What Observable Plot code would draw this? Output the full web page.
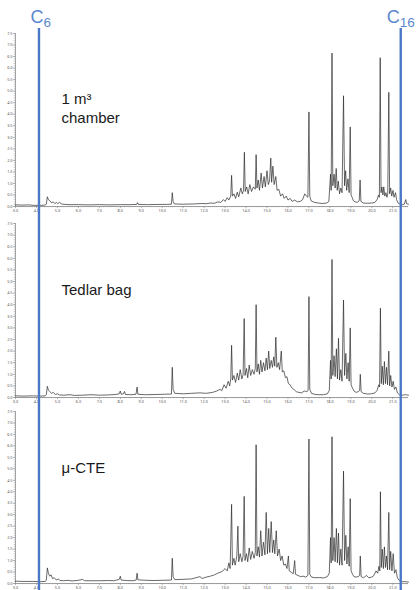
<!DOCTYPE html>
<html><head><meta charset="utf-8">
<script src="https://cdn.jsdelivr.net/npm/d3@7"></script>
<script src="https://cdn.jsdelivr.net/npm/@observablehq/plot@0.6"></script>
<style>
html,body{margin:0;padding:0;background:#fff;overflow:hidden;}
#chart svg{display:block}
</style></head><body><div id="chart"></div>
<script>
// Retention time axis (min) and intensity axis tick labels
const xTicks = [3,4,5,6,7,8,9,10,11,12,13,14,15,16,17,18,19,20,21];
const yTicks = [0,0.5,1,1.5,2,2.5,3,3.5,4,4.5,5,5.5,6,6.5,7,7.5];
// Alkane markers (retention time, min)
const markerTimes = [4.12, 21.38];
const markerLetters = ["C", "C"];
const markerSubs = ["6", "16"];
const panelNames = ["1 m³\nchamber", "Tedlar bag", "μ-CTE"];

// [retention time, intensity]
const chamberTrace = [
[3.00,0.07],[3.30,0.06],[3.60,0.07],[3.90,0.05],[4.20,0.05],[4.40,0.06],[4.47,0.10],[4.52,0.42],[4.57,0.30],[4.65,0.24],[4.72,0.16],[4.80,0.20],[4.88,0.12],[4.95,0.18],[5.02,0.12],[5.10,0.19],[5.18,0.11],[5.35,0.09],[5.60,0.08],[6.00,0.08],[6.50,0.07],[7.00,0.08],[7.50,0.07],[8.00,0.08],[8.50,0.08],[8.78,0.09],[8.82,0.17],[8.86,0.09],[9.30,0.08],[9.80,0.09],[10.20,0.09],[10.44,0.10],[10.48,0.60],[10.52,0.22],[10.58,0.11],[11.00,0.10],[11.50,0.11],[11.90,0.13],[12.10,0.12],[12.30,0.15],[12.50,0.14],[12.65,0.20],[12.80,0.18],[12.92,0.30],[13.00,0.22],[13.10,0.38],[13.18,0.28],[13.27,0.45],[13.31,1.35],[13.35,0.45],[13.42,0.55],[13.50,0.35],[13.58,0.62],[13.65,0.42],[13.75,0.80],[13.82,0.55],[13.88,0.70],[13.92,2.35],[13.96,0.65],[14.03,0.85],[14.10,0.55],[14.18,0.95],[14.26,0.65],[14.35,0.85],[14.44,0.75],[14.48,2.25],[14.52,0.80],[14.58,1.15],[14.64,0.70],[14.72,1.45],[14.78,0.80],[14.86,1.30],[14.92,0.85],[15.00,1.55],[15.06,0.95],[15.12,1.10],[15.18,2.10],[15.22,1.05],[15.28,1.75],[15.34,0.95],[15.42,1.30],[15.48,0.70],[15.56,0.75],[15.65,0.45],[15.74,0.55],[15.82,0.35],[15.92,0.45],[16.00,0.28],[16.10,0.35],[16.20,0.22],[16.32,0.28],[16.45,0.20],[16.58,0.22],[16.70,0.30],[16.80,0.55],[16.88,0.45],[16.95,0.40],[17.00,4.10],[17.04,0.45],[17.10,0.25],[17.25,0.18],[17.45,0.15],[17.65,0.13],[17.85,0.15],[17.95,0.22],
[18.03,1.40],[18.06,0.70],[18.10,6.65],[18.14,0.90],[18.20,1.40],[18.25,0.80],[18.30,1.65],[18.35,0.70],[18.40,1.10],[18.46,0.55],[18.52,0.80],[18.58,0.60],[18.65,4.80],[18.70,0.90],[18.75,1.55],[18.80,0.70],[18.86,1.20],[18.92,0.60],[18.97,3.45],[19.01,0.50],[19.06,0.40],[19.12,0.25],[19.20,0.20],[19.30,0.18],[19.40,0.25],[19.44,1.15],[19.48,0.22],[19.60,0.15],[19.80,0.14],[20.00,0.15],[20.15,0.18],[20.25,0.30],[20.32,0.50],[20.36,0.40],[20.40,6.45],[20.44,0.60],[20.48,0.85],[20.53,0.50],[20.57,0.85],[20.62,0.45],[20.67,0.60],[20.72,0.40],[20.76,0.55],[20.81,4.95],[20.85,0.55],[20.90,0.80],[20.95,0.45],[21.01,0.70],[21.06,0.40],[21.13,0.60],[21.18,0.30],[21.25,0.15],[21.35,0.10],[21.45,0.08],[21.55,0.10],[21.62,0.30],[21.66,0.12],[21.75,0.10]
];
const tedlarTrace = [
[3.00,0.07],[3.40,0.06],[3.80,0.07],[4.20,0.06],[4.42,0.07],[4.47,0.12],[4.52,0.48],[4.57,0.32],[4.64,0.25],[4.72,0.18],[4.80,0.22],[4.90,0.13],[5.00,0.16],[5.10,0.11],[5.30,0.10],[5.60,0.12],[5.80,0.09],[6.20,0.10],[6.60,0.12],[7.00,0.10],[7.40,0.11],[7.80,0.13],[7.95,0.16],[8.00,0.28],[8.04,0.14],[8.15,0.16],[8.20,0.26],[8.25,0.13],[8.50,0.12],[8.75,0.14],[8.80,0.45],[8.84,0.14],[9.20,0.12],[9.70,0.13],[10.10,0.14],[10.44,0.15],[10.48,1.30],[10.52,0.35],[10.60,0.18],[11.00,0.16],[11.40,0.18],[11.80,0.20],[12.10,0.18],[12.40,0.22],[12.60,0.28],[12.75,0.35],[12.85,0.30],[12.95,0.55],[13.05,0.40],[13.15,0.70],[13.22,0.50],[13.27,0.80],[13.31,2.25],[13.35,0.75],[13.42,0.95],[13.50,0.65],[13.58,1.05],[13.65,0.75],[13.72,1.20],[13.80,0.80],[13.86,1.00],[13.91,3.40],[13.95,0.95],[14.02,1.25],[14.08,0.85],[14.15,1.40],[14.22,0.95],[14.30,1.20],[14.38,1.00],[14.44,1.25],[14.48,4.00],[14.52,1.10],[14.58,1.45],[14.64,1.00],[14.70,1.60],[14.76,1.10],[14.83,1.50],[14.90,1.15],[14.96,1.70],[15.02,1.20],[15.08,2.00],[15.13,1.25],[15.20,1.60],[15.26,1.30],[15.32,1.75],[15.37,1.35],[15.42,2.60],[15.47,1.30],[15.54,1.50],[15.60,1.20],[15.68,2.00],[15.73,1.10],[15.80,1.15],[15.88,0.85],[15.95,0.90],[16.02,0.60],[16.10,0.55],[16.18,0.42],[16.28,0.35],[16.40,0.25],[16.52,0.22],[16.65,0.20],[16.78,0.28],[16.90,0.25],[16.96,0.30],[17.00,4.35],[17.04,0.35],[17.12,0.18],[17.30,0.13],[17.50,0.12],[17.70,0.12],[17.88,0.16],[17.97,0.30],
[18.03,1.60],[18.06,0.80],[18.10,5.95],[18.14,0.95],[18.20,1.80],[18.25,0.90],[18.31,2.10],[18.36,0.80],[18.41,2.55],[18.46,0.75],[18.52,1.20],[18.58,0.70],[18.65,4.20],[18.70,0.95],[18.76,1.90],[18.81,0.80],[18.87,1.50],[18.92,0.70],[18.97,3.00],[19.01,0.55],[19.08,0.40],[19.15,0.28],[19.25,0.22],[19.35,0.25],[19.42,0.30],[19.45,1.00],[19.49,0.25],[19.60,0.18],[19.80,0.15],[20.00,0.16],[20.15,0.20],[20.25,0.30],[20.33,0.55],[20.37,0.45],[20.41,3.85],[20.45,0.60],[20.50,1.35],[20.55,0.55],[20.60,1.55],[20.65,0.60],[20.70,1.30],[20.75,0.55],[20.81,2.00],[20.85,0.50],[20.90,0.95],[20.96,0.45],[21.02,0.70],[21.08,0.35],[21.15,0.45],[21.22,0.20],[21.32,0.12],[21.45,0.10],[21.60,0.12],[21.75,0.10]
];
const cteTrace = [
[3.00,0.10],[3.40,0.09],[3.80,0.09],[4.20,0.08],[4.42,0.09],[4.47,0.15],[4.52,0.68],[4.57,0.45],[4.63,0.32],[4.70,0.38],[4.76,0.22],[4.85,0.25],[4.95,0.15],[5.05,0.20],[5.12,0.13],[5.30,0.12],[5.50,0.14],[5.70,0.11],[6.00,0.14],[6.20,0.18],[6.30,0.12],[6.60,0.12],[7.00,0.12],[7.40,0.13],[7.70,0.12],[7.95,0.18],[8.00,0.32],[8.04,0.15],[8.30,0.13],[8.60,0.12],[8.76,0.15],[8.80,0.45],[8.84,0.16],[9.20,0.14],[9.60,0.13],[10.00,0.14],[10.44,0.15],[10.48,1.10],[10.52,0.30],[10.60,0.17],[11.00,0.18],[11.40,0.20],[11.80,0.30],[11.90,0.22],[12.10,0.28],[12.30,0.32],[12.50,0.38],[12.65,0.45],[12.80,0.50],[12.90,0.56],[13.00,0.65],[13.10,0.55],[13.18,0.90],[13.24,0.65],[13.31,3.45],[13.35,0.80],[13.42,1.10],[13.48,0.80],[13.56,1.20],[13.61,2.50],[13.65,0.95],[13.72,1.30],[13.80,0.95],[13.86,1.20],[13.91,3.80],[13.95,1.00],[14.02,1.30],[14.08,0.95],[14.15,1.55],[14.22,1.05],[14.30,1.40],[14.38,1.10],[14.44,1.35],[14.48,6.05],[14.52,1.20],[14.58,1.60],[14.64,1.15],[14.70,2.30],[14.76,1.20],[14.83,1.80],[14.90,1.25],[14.96,3.10],[15.02,1.30],[15.08,2.40],[15.13,1.35],[15.20,2.70],[15.26,1.35],[15.32,1.90],[15.37,1.30],[15.44,2.30],[15.50,1.20],[15.58,1.50],[15.65,1.00],[15.72,1.20],[15.80,0.80],[15.88,0.85],[15.95,0.65],[16.02,1.20],[16.06,0.55],[16.15,0.50],[16.25,0.42],[16.32,1.00],[16.36,0.40],[16.48,0.35],[16.60,0.30],[16.72,0.32],[16.85,0.28],[16.95,0.35],[17.00,6.30],[17.04,0.40],[17.12,0.28],[17.30,0.25],[17.50,0.26],[17.70,0.24],[17.88,0.30],[17.97,0.45],
[18.03,2.00],[18.06,0.90],[18.10,6.40],[18.14,1.00],[18.20,2.00],[18.25,0.95],[18.31,2.40],[18.36,0.90],[18.41,2.20],[18.46,0.80],[18.52,1.50],[18.58,0.80],[18.65,4.90],[18.70,1.00],[18.76,2.10],[18.81,0.85],[18.87,1.60],[18.92,0.75],[18.97,3.70],[19.01,0.55],[19.08,0.40],[19.15,0.30],[19.25,0.28],[19.35,0.30],[19.42,0.35],[19.45,1.20],[19.49,0.30],[19.60,0.25],[19.75,0.35],[19.85,0.25],[20.00,0.28],[20.10,0.35],[20.20,0.55],[20.28,0.45],[20.34,0.75],[20.38,0.55],[20.41,4.00],[20.45,0.70],[20.50,1.50],[20.55,0.65],[20.60,1.60],[20.65,0.70],[20.70,1.20],[20.75,0.60],[20.81,3.10],[20.85,0.60],[20.90,1.40],[20.96,0.55],[21.02,1.30],[21.08,0.45],[21.15,0.60],[21.22,0.25],[21.32,0.12],[21.45,0.08],[21.60,0.08],[21.75,0.06]
];

const traces = [chamberTrace, tedlarTrace, cteTrace];
const markers = markerTimes.map((t, i) => ({t, letter: markerLetters[i], sub: markerSubs[i]}));
const xMinor = d3.range(30, 218).map(d => d / 10);
const yMinor = d3.range(0, 76).map(d => d / 10);

const layout = [
  {height: 215, top: 33, bottom: 9, labelDy: 57},
  {height: 189, top: 8, bottom: 7, labelDy: 58},
  {height: 186, top: 7, bottom: 7, labelDy: 48}
];
const markerDx = [4.5, -1];
const blue = "#4a78c6";
const labelBlue = "#5b88cf";
const axisGray = "#8a8a8a";
const font = "Liberation Sans, Arial, sans-serif";

function panel(i) {
  const L = layout[i];
  const marks = [
    Plot.axisY(yMinor, {tickSize: 1.2, tickFormat: () => "", stroke: axisGray, strokeWidth: 0.5, label: null}),
    Plot.axisY(yTicks, {tickSize: 2.2, tickPadding: 0.8, tickFormat: d => d.toFixed(1), fontSize: 3.8, fill: "#555", stroke: axisGray, strokeWidth: 0.6, label: null}),
    Plot.axisX(xMinor, {tickSize: 1.2, tickFormat: () => "", stroke: axisGray, strokeWidth: 0.5, label: null}),
    Plot.axisX(xTicks, {tickSize: 2.2, tickPadding: 0.6, tickFormat: d => d.toFixed(1), fontSize: 3.8, fill: "#555", stroke: axisGray, strokeWidth: 0.6, label: null}),
    Plot.ruleY([0], {stroke: axisGray, strokeWidth: 0.8}),
    Plot.ruleX([3], {stroke: axisGray, strokeWidth: 0.8}),
    Plot.line(traces[i], {x: d => d[0], y: d => d[1], stroke: "#2a2a2a", strokeWidth: 0.7}),
    Plot.text([panelNames[i]], {frameAnchor: "top-left", dx: 46, dy: L.labelDy, textAnchor: "start", lineAnchor: "top", lineHeight: 1.27, fontSize: 15, fill: "#1a1a1a", fontFamily: font}),
    Plot.ruleX(markers, {x: "t", stroke: blue, strokeWidth: 2.4, insetTop: i === 0 ? -5 : -L.top, insetBottom: -L.bottom})
  ];
  if (i === 0) {
    markers.forEach((m, j) => {
      marks.push(
        Plot.text([m], {x: "t", text: "letter", frameAnchor: "top", dy: -16.5, dx: markerDx[j], textAnchor: "end", lineAnchor: "middle", fontSize: 18, fill: labelBlue, fontFamily: font}),
        Plot.text([m], {x: "t", text: "sub", frameAnchor: "top", dy: -11, dx: markerDx[j], textAnchor: "start", lineAnchor: "middle", fontSize: 13.5, fill: labelBlue, fontFamily: font})
      );
    });
  }
  return Plot.plot({
    width: 419, height: L.height,
    marginTop: L.top, marginBottom: L.bottom, marginLeft: 15, marginRight: 11,
    x: {domain: [3, 21.75]},
    y: {domain: [0, 7.5]},
    style: {background: "transparent", overflow: "visible"},
    marks
  });
}
const chart = document.getElementById("chart");
[0, 1, 2].forEach(i => chart.appendChild(panel(i)));
</script>
</body></html>
